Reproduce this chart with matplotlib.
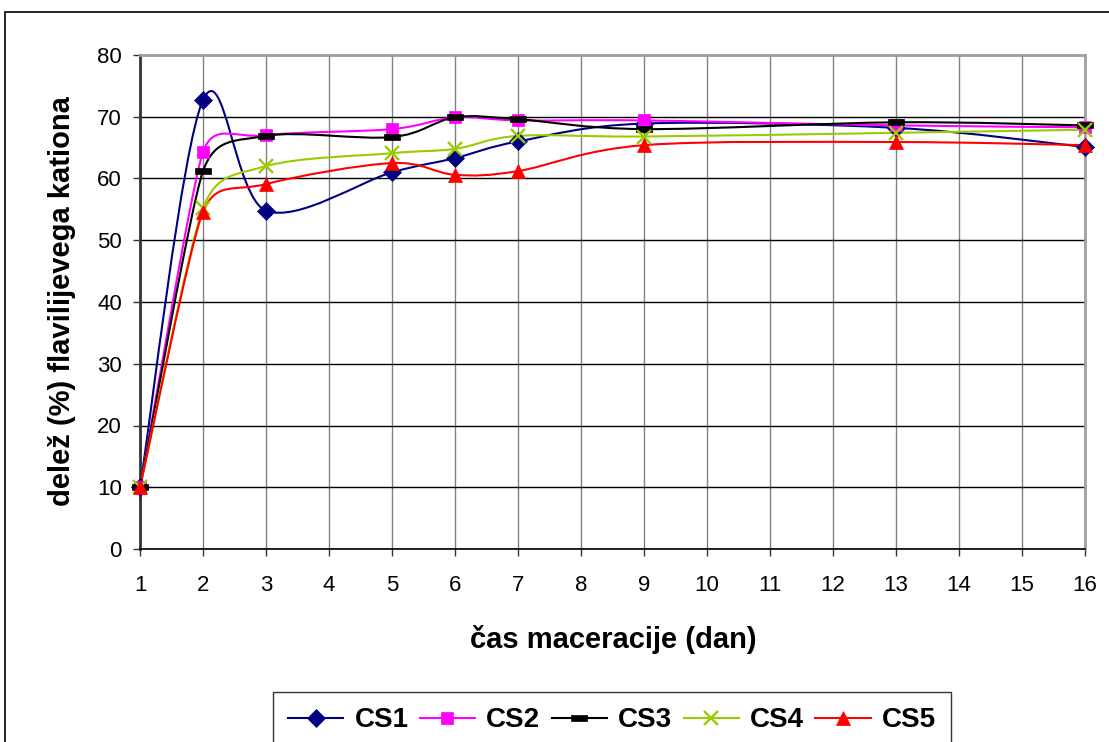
import numpy as np
import matplotlib.pyplot as plt
from matplotlib.path import Path
from matplotlib.patches import PathPatch, Rectangle
from matplotlib.lines import Line2D

plt.rcParams['font.family'] = ['Liberation Sans', 'DejaVu Sans']

# maceration days with measurements
days = [1, 2, 3, 5, 6, 7, 9, 13, 16]

# share (%) of flavylium cation per sample
cs1 = [10, 72.7, 54.8, 61.0, 63.3, 66.0, 68.9, 68.2, 65.1]
cs2 = [10, 64.3, 67.0, 68.0, 69.9, 69.4, 69.4, 68.6, 68.3]
cs3 = [10, 61.2, 66.9, 66.7, 69.9, 69.6, 68.0, 69.1, 68.6]
cs4 = [10, 55.2, 62.0, 64.1, 64.8, 66.9, 66.8, 67.4, 67.9]
cs5 = [10, 54.6, 59.1, 62.5, 60.6, 61.2, 65.4, 65.9, 65.4]

names = ['CS1', 'CS2', 'CS3', 'CS4', 'CS5']
colors = ['#000080', '#FF00FF', '#000000', '#99CC00', '#FF0000']

# flat bar used as the CS3 marker
dash = Path([(-1, -0.35), (1, -0.35), (1, 0.35), (-1, 0.35), (-1, -0.35)],
            [Path.MOVETO, Path.LINETO, Path.LINETO, Path.LINETO, Path.CLOSEPOLY])
markers = ['D', 's', dash, 'x', '^']
msizes = [9, 8.5, 12, 10, 10]


def smooth_path(x, y, sx, sy):
    # bezier smoothing (tension 1/6), control arms limited to half the neighbouring
    # segment; done in pixel space so the limit follows what is seen on screen
    p = np.column_stack([np.asarray(x, float) * sx, np.asarray(y, float) * sy])
    n = len(p)
    fwd = np.zeros_like(p)
    bwd = np.zeros_like(p)
    for i in range(n):
        prev = p[max(i - 1, 0)]
        nxt = p[min(i + 1, n - 1)]
        t = nxt - prev
        d02 = np.hypot(*t)
        f = 1 / 6
        if d02 > 0:
            d01 = np.hypot(*(p[i] - prev))
            d12 = np.hypot(*(nxt - p[i]))
            if i < n - 1 and d02 * f > d12 / 2:
                f = d12 / (2 * d02)
            if i > 0 and d02 * f > d01 / 2:
                f = d01 / (2 * d02)
        fwd[i] = p[i] + t * f
        bwd[i] = p[i] - t * f
    verts = [p[0]]
    codes = [Path.MOVETO]
    for i in range(n - 1):
        verts += [fwd[i], bwd[i + 1], p[i + 1]]
        codes += [Path.CURVE4] * 3
    verts = np.array(verts) / [sx, sy]
    return Path(verts, codes)


fig = plt.figure(figsize=(11.09, 7.42), dpi=100)
ax = fig.add_axes([140 / 1109, 1 - 549 / 742, 945 / 1109, 494 / 742])
ax.set_xlim(1, 16)
ax.set_ylim(0, 80)

# pixels per data unit
bb = ax.get_window_extent()
sx = bb.width / 15
sy = bb.height / 80

handles = []
for vals, name, col, mk, ms in zip([cs1, cs2, cs3, cs4, cs5], names, colors, markers, msizes):
    ax.add_patch(PathPatch(smooth_path(days, vals, sx, sy), facecolor='none', edgecolor=col,
                           lw=1.5, zorder=3))
    mew = 1.7 if mk == 'x' else 0.5
    ax.plot(days, vals, linestyle='none', marker=mk, markersize=ms, color=col,
            markeredgewidth=mew, zorder=4, clip_on=False)
    handles.append(Line2D([], [], color=col, lw=1.5, marker=mk, markersize=ms, markeredgewidth=mew))

ax.set_xticks(range(1, 17))
ax.set_yticks(range(0, 81, 10))
ax.tick_params(axis='both', labelsize=16, direction='out', length=5, width=1, color='#333333')
ax.tick_params(axis='x', pad=14)
ax.tick_params(axis='y', pad=8)

ax.grid(axis='y', color='black', lw=1)
ax.grid(axis='x', color='#808080', lw=1)
ax.set_axisbelow(True)
for side in ['top', 'right']:
    ax.spines[side].set_color('#A0A0A0')
    ax.spines[side].set_linewidth(2)
ax.spines['left'].set_color('#333333')
ax.spines['left'].set_linewidth(2)
ax.spines['bottom'].set_color('black')
ax.spines['bottom'].set_linewidth(1.2)

fig.text(613 / 1109, 1 - 640 / 742, 'čas maceracije (dan)', ha='center', va='center',
         fontsize=21, fontweight='bold')
fig.text(62 / 1109, 1 - 301 / 742, 'delež (%) flavilijevega kationa', ha='center', va='center',
         rotation=90, fontsize=21, fontweight='bold')

leg = fig.legend(handles, names, ncol=5, loc='upper center', bbox_to_anchor=(612 / 1109, 1 - 692 / 742),
                 prop={'weight': 'bold', 'size': 20}, frameon=True, fancybox=False,
                 edgecolor='black', handlelength=2.0, handletextpad=0.4, columnspacing=0.4,
                 borderpad=0.55, borderaxespad=0)
leg.get_frame().set_linewidth(1)

# chart border
fig.patches.append(Rectangle((5 / 1109, -0.1), 1.2, 1.1 - 12 / 742, transform=fig.transFigure,
                             fill=False, edgecolor='black', lw=1.2))

fig.savefig('out.png', dpi=100)
